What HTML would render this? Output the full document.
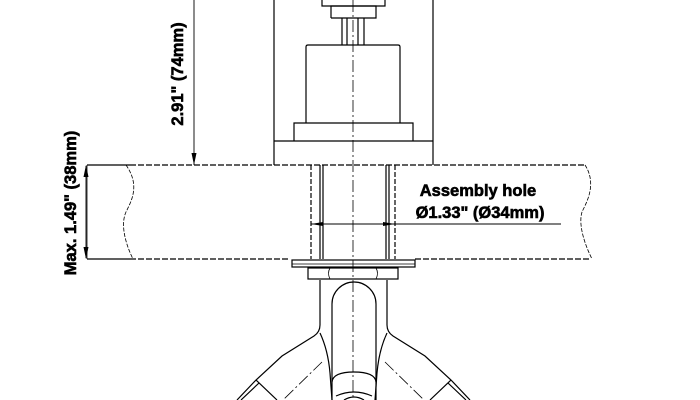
<!DOCTYPE html>
<html><head><meta charset="utf-8"><style>
html,body{margin:0;padding:0;background:#fff}
svg{display:block}
text{font-family:"Liberation Sans",Arial,sans-serif;font-weight:bold;font-size:16.5px;fill:#000;stroke:#000;stroke-width:0.6}
</style></head><body>
<svg width="700" height="400" viewBox="0 0 700 400" xmlns="http://www.w3.org/2000/svg">
<g fill="none" stroke="#000" stroke-width="1.2">
<line x1="274" y1="0" x2="274" y2="165"/>
<line x1="433" y1="0" x2="433" y2="165"/>
<line x1="274" y1="141" x2="433" y2="141"/>
<polyline points="294,141 294,123 413,123 413,141"/>
<path d="M306,123 V47 Q306,45 308,45 H398 Q400,45 400,47 V123"/>
<line x1="342" y1="18" x2="342" y2="45"/><line x1="347" y1="18" x2="347" y2="45"/>
<line x1="358" y1="18" x2="358" y2="45"/><line x1="364" y1="18" x2="364" y2="45"/>
<polyline points="331,18 331,6 376,6 376,18 331,18"/>
<polyline points="322,0 322,6 385,6 385,0"/>
<line x1="87" y1="165" x2="130" y2="165"/>
<line x1="130" y1="165" x2="585" y2="165" stroke-dasharray="6,2"/>
<line x1="87" y1="259" x2="130" y2="259"/>
<line x1="130" y1="259" x2="290" y2="259" stroke-dasharray="6,2"/>
<line x1="415" y1="259" x2="590" y2="259" stroke-dasharray="6,2"/>
<line x1="87" y1="165" x2="87" y2="259" stroke-width="0.8"/>
<path d="M126,165 C140,185 132,200 126,212 C120,225 126,245 133,259" stroke-width="0.8" stroke-dasharray="4,1.5"/>
<path d="M585,165 C598,185 585,205 582,212 C578,225 585,245 592,259" stroke-width="0.8" stroke-dasharray="4,1.5"/>
<line x1="311" y1="165" x2="311" y2="259" stroke-dasharray="5,2"/>
<line x1="395" y1="165" x2="395" y2="259" stroke-dasharray="5,2"/>
<line x1="320" y1="165" x2="320" y2="259"/><line x1="323" y1="165" x2="323" y2="259"/>
<line x1="386" y1="165" x2="386" y2="259"/><line x1="389" y1="165" x2="389" y2="259"/>
<line x1="311" y1="224" x2="561" y2="224" stroke-width="0.9"/>
<rect x="292" y="260" width="123" height="7"/>
<line x1="292" y1="264" x2="415" y2="264" stroke-width="0.7"/>
<rect x="308" y="268" width="90" height="11"/>
<path d="M330,268 Q327,273 330,279 M376,268 Q379,273 376,279" stroke-width="0.8"/>
<path d="M320,280 V325 Q320,332 314,336 L282,356 L256,380 L237,400"/>
<path d="M387,280 V325 Q387,332 393,336 L425,356 L451,380 L470,400"/>
<path d="M256,380 L277,400 M259,383 L241,400"/>
<path d="M451,380 L430,400 M448,383 L466,400"/>
<path d="M320,333 Q328,350 330,373 L332,400"/>
<path d="M387,333 Q379,350 377,373 L375,400"/>
<path d="M332,400 V304 A22,22 0 0 1 376,304 V400"/>
<path d="M332,382 Q333,372 354,372 Q375,372 376,382"/>
<path d="M336,396 Q354,388 372,396"/>
<path d="M344,400 Q354,394 364,400"/>
</g>
<g fill="none" stroke="#000" stroke-width="0.8" stroke-dasharray="12,3,2,3">
<line x1="353" y1="0" x2="353" y2="400"/>
<line x1="322" y1="362" x2="283" y2="400"/>
<line x1="385" y1="362" x2="424" y2="400"/>
</g>
<g stroke="#000" stroke-width="0.9" fill="none">
<line x1="194" y1="0" x2="194" y2="165"/>
<line x1="86" y1="166" x2="86" y2="258"/>
</g>
<g fill="#000">
<polygon points="194,165 191.5,153 196.5,153"/>
<polygon points="86,165 83.5,177 88.5,177"/>
<polygon points="86,259 83.5,247 88.5,247"/>
<polygon points="311,224 323,222 323,226"/>
<polygon points="395,224 383,222 383,226"/>
</g>
<text x="0" y="0" text-anchor="middle" transform="translate(183,74) rotate(-90)">2.91" (74mm)</text>
<text x="0" y="0" text-anchor="middle" transform="translate(76,203) rotate(-90)">Max. 1.49" (38mm)</text>
<text x="478" y="196" text-anchor="middle">Assembly hole</text>
<text x="480" y="218" text-anchor="middle">Ø1.33" (Ø34mm)</text>
</svg>
</body></html>
